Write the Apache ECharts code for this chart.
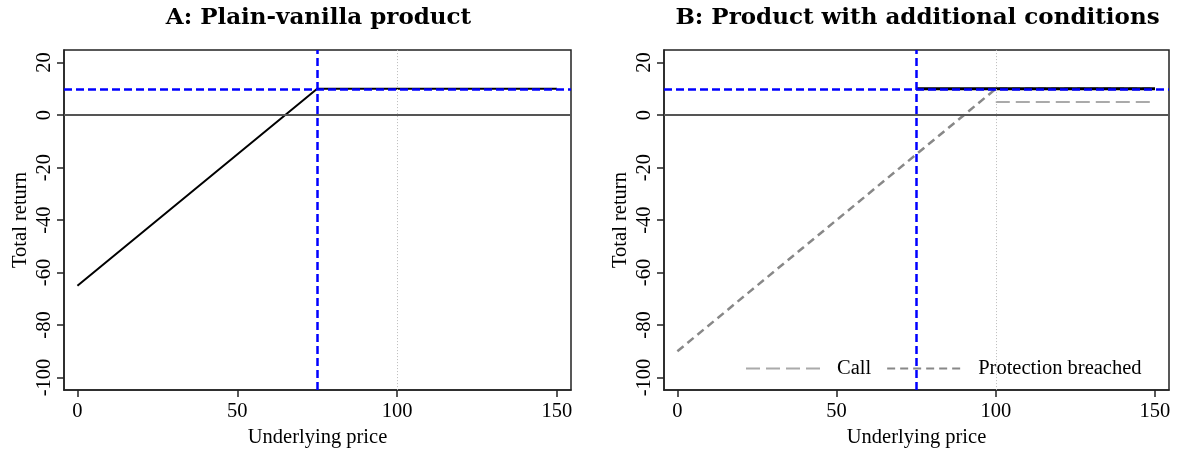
<!DOCTYPE html>
<html>
<head>
<meta charset="utf-8">
<script src="https://cdn.jsdelivr.net/npm/echarts@6/dist/echarts.min.js"></script>
<style>
html,body{margin:0;padding:0;background:#fff;}
#chart{width:1177px;height:453px;}
</style>
</head>
<body>
<div id="chart"></div>
<script>
// ---- data ----
const titles = ['A: Plain-vanilla product', 'B: Product with additional conditions'];
const xTicks = [0, 50, 100, 150];
const yTicks = [-100, -80, -60, -40, -20, 0, 20];
const xName = 'Underlying price';
const yName = 'Total return';
const barrierPrice = 75;
const capReturn = 10;
const initialPrice = 100;
const zeroReturn = 0;
// Panel A
const plainX = [0, 75, 150];
const plainY = [-65, 10, 10];
// Panel B
const condX = [75, 150];
const condY = [10, 10];
const callX = [100, 150];
const callY = [5, 5];
const breachX = [0, 100, 150];
const breachY = [-90, 10, 10];
const legendNames = ['Call', 'Protection breached'];

const pairs = (xs, ys) => xs.map((x, i) => [x, ys[i]]);

const SERIF = '"Liberation Serif", "Times New Roman", serif';
const FS = 20.5;
const grids = [
  {left: 64, top: 50, width: 507, height: 342},
  {left: 664, top: 50, width: 505, height: 342}
];

function xAxis(i) {
  return {
    type: 'value', gridIndex: i, min: -4.2, max: 154.4,
    name: xName, nameLocation: 'middle', nameGap: 35,
    nameTextStyle: {fontFamily: SERIF, fontSize: FS, color: '#000'},
    axisLine: {show: true, onZero: false, lineStyle: {color: '#222', width: 1.5}},
    axisTick: {show: true, customValues: xTicks, length: 7, lineStyle: {color: '#222', width: 1.5}},
    axisLabel: {customValues: xTicks, fontFamily: SERIF, fontSize: FS, color: '#000', margin: 11},
    splitLine: {show: false}
  };
}
function yAxis(i) {
  return {
    type: 'value', gridIndex: i, min: -104.8, max: 24.8,
    name: yName, nameLocation: 'middle', nameGap: 33, nameRotate: 90,
    nameTextStyle: {fontFamily: SERIF, fontSize: FS, color: '#000'},
    axisLine: {show: true, onZero: false, lineStyle: {color: '#222', width: 1.5}},
    axisTick: {show: true, customValues: yTicks, length: 7, lineStyle: {color: '#222', width: 1.5}},
    axisLabel: {customValues: yTicks, rotate: 90, fontFamily: SERIF, fontSize: FS, color: '#000', margin: 9},
    splitLine: {show: false}
  };
}
function refSeries(i) {
  return {
    type: 'line', xAxisIndex: i, yAxisIndex: i, data: [], z: 1, silent: true,
    markLine: {
      silent: true, symbol: ['none', 'none'], label: {show: false}, animation: false,
      data: [
        {yAxis: zeroReturn, lineStyle: {color: '#555', width: 2, type: 'solid'}},
        {xAxis: initialPrice, lineStyle: {color: '#bbb', width: 1, type: [1, 2]}},
        {yAxis: capReturn, lineStyle: {color: '#0000ff', width: 2.5, type: [8, 4]}},
        {xAxis: barrierPrice, lineStyle: {color: '#0000ff', width: 2.5, type: [8, 4]}}
      ]
    }
  };
}

const chart = echarts.init(document.getElementById('chart'), null, {renderer: 'canvas'});
chart.setOption({
  animation: false,
  backgroundColor: '#fff',
  grid: grids.map(g => Object.assign({show: true, borderColor: '#222', borderWidth: 1.5, backgroundColor: 'transparent'}, g)),
  xAxis: [xAxis(0), xAxis(1)],
  yAxis: [yAxis(0), yAxis(1)],
  legend: {
    data: legendNames,
    left: 735, top: 350,
    backgroundColor: '#fff',
    padding: [8, 10],
    itemWidth: 78, itemHeight: 14, itemGap: 15,
    itemStyle: {opacity: 0},
    textStyle: {fontFamily: SERIF, fontSize: FS, color: '#000', padding: [0, 0, 0, 8]}
  },
  graphic: titles.map((t, i) => ({
    type: 'text',
    x: grids[i].left + grids[i].width / 2 + 1,
    y: 18,
    style: {text: t, font: 'bold 23px "DejaVu Serif", serif', fill: '#000', align: 'center', verticalAlign: 'middle'}
  })),
  series: [
    refSeries(0),
    refSeries(1),
    {
      name: 'Plain', type: 'line', xAxisIndex: 0, yAxisIndex: 0, z: 3,
      data: pairs(plainX, plainY), symbol: 'none',
      lineStyle: {color: '#000', width: 2}
    },
    {
      name: 'Protection breached', type: 'line', xAxisIndex: 1, yAxisIndex: 1, z: 3,
      data: pairs(breachX, breachY), symbol: 'none',
      itemStyle: {color: '#888'},
      lineStyle: {color: '#888', width: 2.5, type: [8, 5]}
    },
    {
      name: 'Call', type: 'line', xAxisIndex: 1, yAxisIndex: 1, z: 3,
      data: pairs(callX, callY), symbol: 'none',
      itemStyle: {color: '#aaa'},
      lineStyle: {color: '#aaa', width: 2, type: [14, 6]}
    },
    {
      name: 'Conditional', type: 'line', xAxisIndex: 1, yAxisIndex: 1, z: 4,
      data: pairs(condX, condY), symbol: 'none',
      lineStyle: {color: '#000', width: 3}
    }
  ]
});
</script>
</body>
</html>
